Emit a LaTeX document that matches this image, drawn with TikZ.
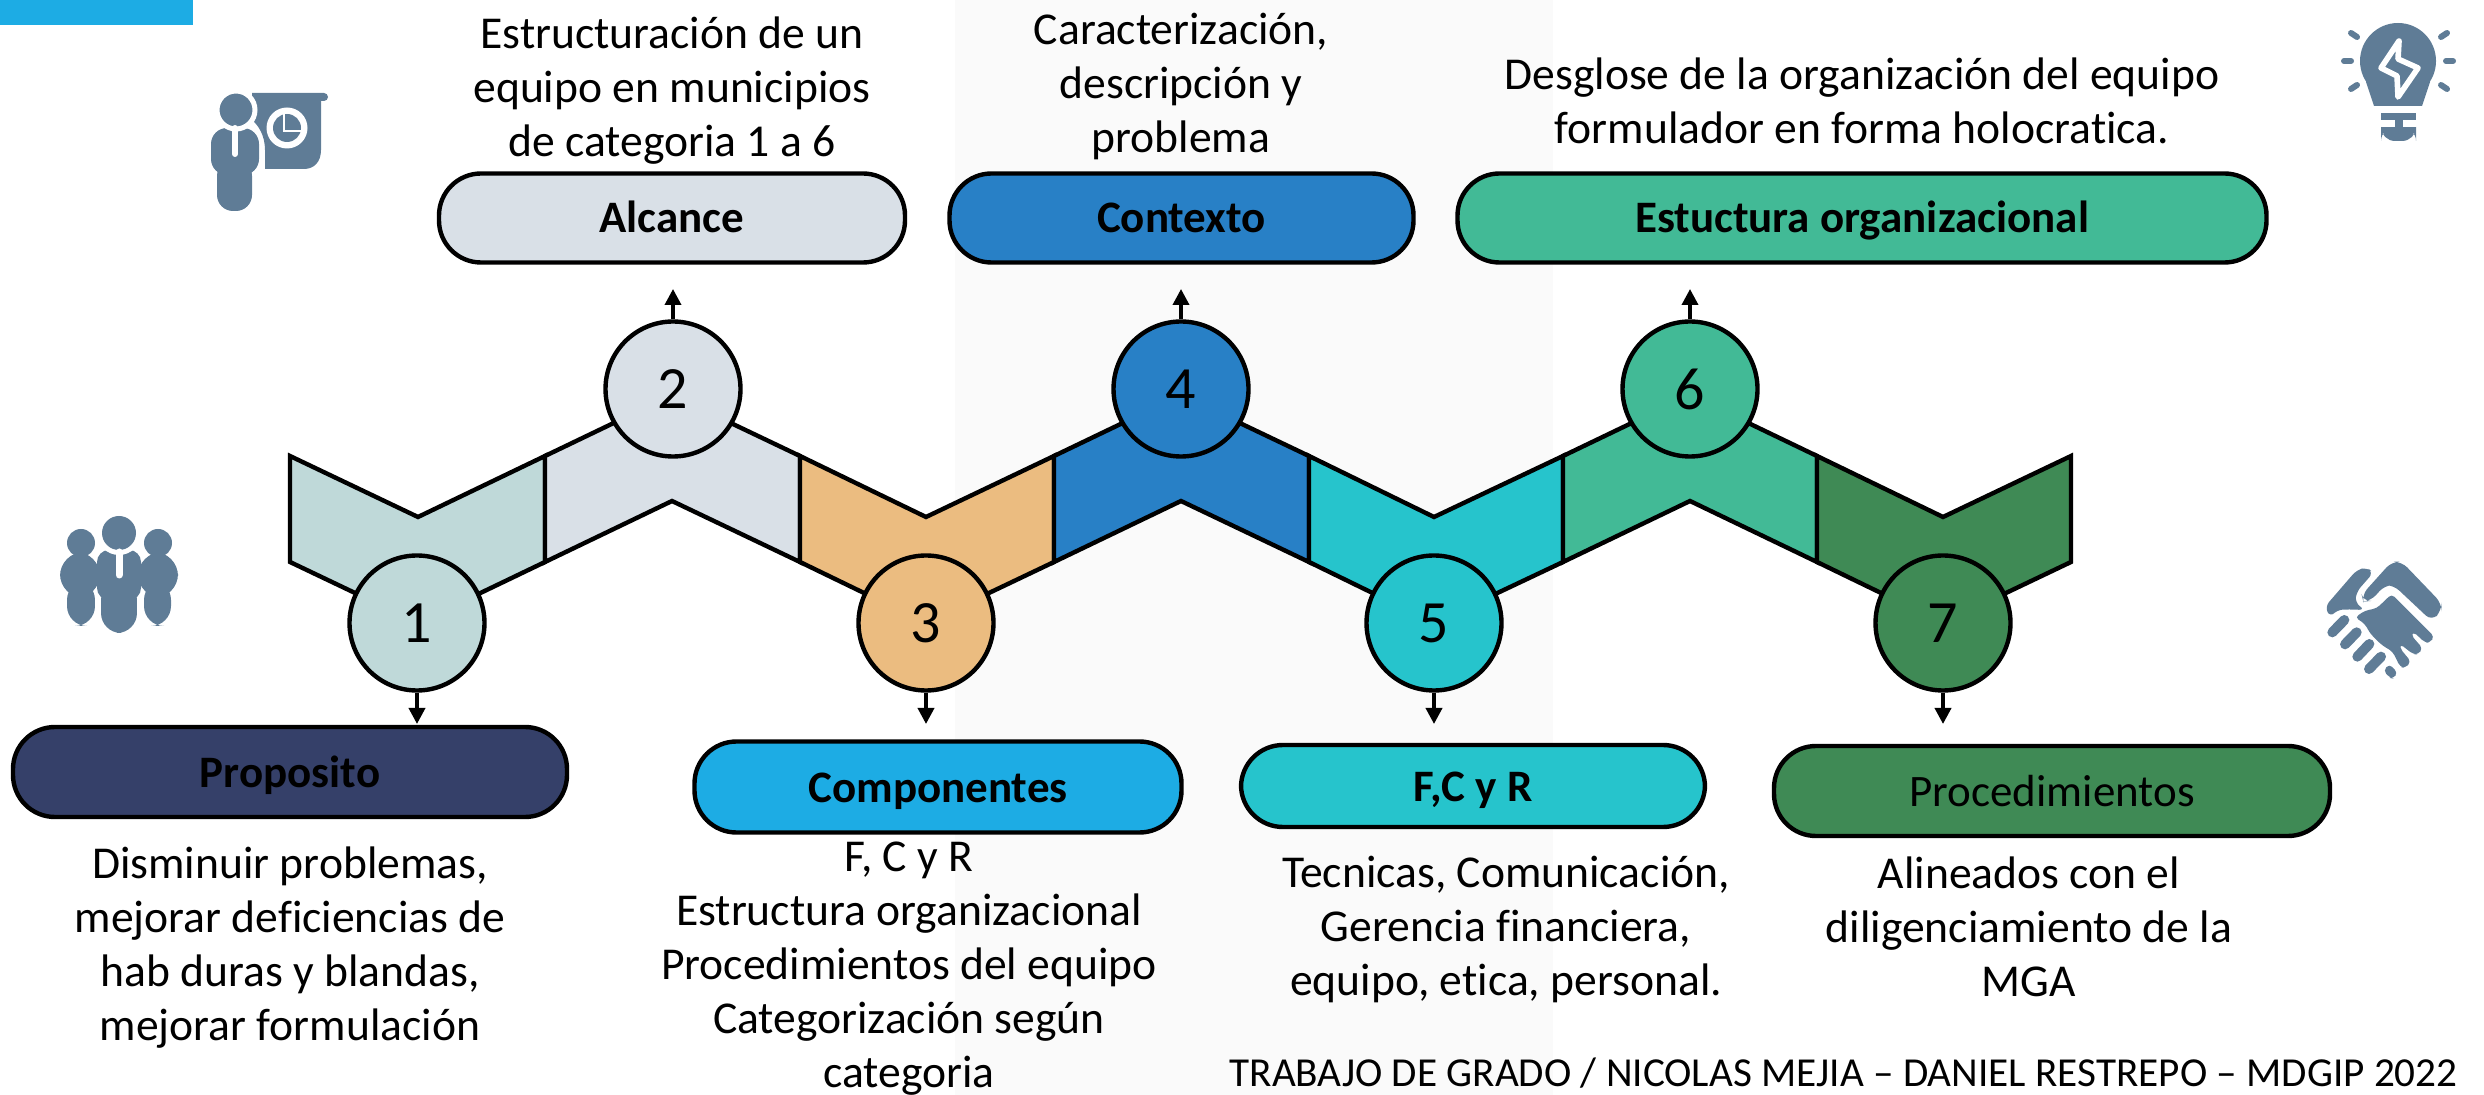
\documentclass[tikz,border=0pt]{standalone}
\usepackage{fontspec}
\setmainfont{Carlito}[Ligatures=NoCommon]
\usetikzlibrary{arrows.meta}
\definecolor{iconc}{HTML}{5F7C96}
\definecolor{cA}{HTML}{BFD9D9}
\definecolor{cB}{HTML}{D9E0E7}
\definecolor{cC}{HTML}{EBBC80}
\definecolor{cD}{HTML}{2880C6}
\definecolor{cE}{HTML}{26C4CC}
\definecolor{cF}{HTML}{42BA96}
\definecolor{cG}{HTML}{3F8A55}
\definecolor{cNavy}{HTML}{354069}
\definecolor{cSky}{HTML}{1DACE4}
\definecolor{cPanel}{HTML}{FAFAFA}
\tikzset{
  x=0.5pt,y=-0.5pt,
  sect/.style={draw=black,line width=2.2pt,line join=miter},
  numc/.style={circle,draw=black,line width=2.2pt,minimum size=67.5pt,inner sep=0pt,font=\fontsize{30}{32}\selectfont},
  pill/.style={rectangle,rounded corners=21pt,draw=black,line width=2.2pt,inner sep=0pt,text height=15pt,text depth=0pt,font=\fontsize{22.5}{25}\selectfont\bfseries},
  body/.style={align=center,inner sep=0pt,font=\fontsize{22.8}{27}\selectfont},
  arr/.style={line width=1.8pt,-{Triangle[length=8pt,width=8pt]}},
  ic/.style={fill=iconc,draw=none},
}
\begin{document}
\begin{tikzpicture}
\useasboundingbox (0,0) rectangle (2484,1095);
\fill[cPanel] (955,0) rectangle (1553,1095);
\fill[cSky] (0,0) rectangle (193,25);

% zigzag
\filldraw[sect,fill=cA] (290,456)--(418,517)--(545,456)--(545,562)--(418,623)--(290,562)--cycle;
\filldraw[sect,fill=cB] (545,456)--(672,395)--(800,456)--(800,562)--(672,501)--(545,562)--cycle;
\filldraw[sect,fill=cC] (800,456)--(926,517)--(1054,456)--(1054,562)--(926,623)--(800,562)--cycle;
\filldraw[sect,fill=cD] (1054,456)--(1181,395)--(1309,456)--(1309,562)--(1181,501)--(1054,562)--cycle;
\filldraw[sect,fill=cE] (1309,456)--(1434,517)--(1563,456)--(1563,562)--(1434,623)--(1309,562)--cycle;
\filldraw[sect,fill=cF] (1563,456)--(1690,395)--(1817,456)--(1817,562)--(1690,501)--(1563,562)--cycle;
\filldraw[sect,fill=cG] (1817,456)--(1943,517)--(2071,456)--(2071,562)--(1943,623)--(1817,562)--cycle;

% circles
\node[numc,fill=cA] (n1) at (417,623) {1};
\node[numc,fill=cB] (n2) at (673,389) {2};
\node[numc,fill=cC] (n3) at (926,623) {3};
\node[numc,fill=cD] (n4) at (1181,389) {4};
\node[numc,fill=cE] (n5) at (1434,623) {5};
\node[numc,fill=cF] (n6) at (1690,389) {6};
\node[numc,fill=cG] (n7) at (1943,623) {7};

% pills
\node[pill,fill=cB,minimum width=233pt,minimum height=44.5pt] (p2) at (672,218) {Alcance};
\node[pill,fill=cD,minimum width=232pt,minimum height=44.5pt] (p4) at (1181.5,218) {Contexto};
\node[pill,fill=cF,minimum width=404.5pt,minimum height=44.5pt] (p6) at (1862,218) {Estuctura organizacional};
\node[pill,fill=cNavy,minimum width=277pt,minimum height=45pt] (p1) at (290,772) {Proposito};
\node[pill,fill=cSky,minimum width=243.5pt,minimum height=45.5pt] (p3) at (938,787) {Componentes};
\node[pill,fill=cE,minimum width=232pt,minimum height=41pt] (p5) at (1473,786) {F,C y R};
\node[pill,fill=cG,minimum width=278pt,minimum height=45pt,font=\fontsize{22.5}{25}\selectfont] (p7) at (2052,791) {Procedimientos};

% arrows
\coordinate (t2) at (673,289);
\coordinate (t4) at (1181,289);
\coordinate (t6) at (1690,289);
\coordinate (t1) at (417,724);
\coordinate (t3) at (926,724);
\coordinate (t5) at (1434,724);
\coordinate (t7) at (1943,724);
\draw[arr] (n2.north)--(t2);
\draw[arr] (n4.north)--(t4);
\draw[arr] (n6.north)--(t6);
\draw[arr] (n1.south)--(t1);
\draw[arr] (n3.south)--(t3);
\draw[arr] (n5.south)--(t5);
\draw[arr] (n7.south)--(t7);

% texts
\node[body] (d2) at (672,91) {Estructuración de un\\equipo en municipios\\de categoria 1 a 6};
\node[body] (d4) at (1181,86) {Caracterización,\\descripción y\\problema};
\node[body] (d6) at (1862,101) {Desglose de la organización del equipo\\formulador en forma holocratica.};
\node[body] (d1) at (290,948) {Disminuir problemas,\\mejorar deficiencias de\\hab duras y blandas,\\mejorar formulación};
\node[body] (d3) at (909,969) {F, C y R\\Estructura organizacional\\Procedimientos del equipo\\Categorización según\\categoria};
\node[body] (d5) at (1506,929) {Tecnicas, Comunicación,\\Gerencia financiera,\\equipo, etica, personal.};
\node[body] (d7) at (2029,927) {Alineados con el\\diligenciamiento de la\\MGA};
\node[body,anchor=east,font=\fontsize{20.6}{25}\selectfont] (foot) at (2458,1073) {TRABAJO DE GRADO / NICOLAS MEJIA – DANIEL RESTREPO – MDGIP 2022};

% presenter icon
\fill[ic] (252,93) -- (324,93) arc[start angle=-90,end angle=90,radius=4] -- (321,101) -- (321,150) .. controls (321,162) and (314,169) .. (304,169) -- (265,169) -- (265,150) .. controls (265,135) and (258,125) .. (252,120) -- cycle;
\fill[ic,rounded corners=8pt] (211,128) rectangle (259,175);
\fill[ic,rounded corners=8pt] (217,160) rectangle (252,211);
\fill[ic,draw=white,line width=2.5pt] (236,110) circle[radius=19];
\draw[white,line width=3pt,line cap=round] (235,128)--(235,154);
\fill[white] (287,128) circle[radius=20.5];
\fill[ic] (287,128) circle[radius=14];
\draw[white,line width=1.4pt] (284,113)--(284,131)--(302,131);

% team icon
\fill[ic] (81,543) circle[radius=14];
\fill[ic] (158,543) circle[radius=14];
\fill[ic,rounded corners=12pt] (60,552) rectangle (100,598);
\fill[ic,rounded corners=12pt] (138,552) rectangle (178,598);
\fill[ic,rounded corners=10pt] (67,580) rectangle (95,626);
\fill[ic,rounded corners=10pt] (144,580) rectangle (171,626);
\fill[ic,rounded corners=6pt] (97,550) rectangle (141,600);
\fill[ic,rounded corners=10pt] (101,580) rectangle (137,633);
\fill[white] (119,533) circle[radius=22];
\fill[ic] (119,533) circle[radius=17];
\draw[white,line width=3.5pt,line cap=round] (119,552)--(119,575);
\fill[white] (95,598) rectangle (101,630);
\fill[white] (137,598) rectangle (144,630);

% bulb icon
\fill[ic] (2366,82) -- (2374,106) -- (2422,106) -- (2430,82) -- cycle;
\fill[ic] (2398,61) circle[radius=38];
\fill[ic] (2381,113) rectangle (2416,120);
\fill[ic] (2395,120) rectangle (2403,127);
\fill[ic,rounded corners=7pt] (2381,127) -- (2416,127) -- (2416,141) -- (2381,141) -- cycle;
\fill[ic] (2381,127) rectangle (2416,133);
\draw[iconc,line width=3pt,line cap=round] (2344,61)--(2351,61);
\draw[iconc,line width=3pt,line cap=round] (2446,61)--(2453,61);
\draw[iconc,line width=3pt,line cap=round] (2351,33)--(2357,37);
\draw[iconc,line width=3pt,line cap=round] (2447,33)--(2441,37);
\draw[iconc,line width=3pt,line cap=round] (2351,89)--(2357,85);
\draw[iconc,line width=3pt,line cap=round] (2447,89)--(2441,85);
\draw[white,line width=2.8pt,line join=round,fill=iconc] (2399,41)--(2381,68)--(2397,76)--(2398,97)--(2418,68)--(2398,59)--cycle;

% handshake icon
\begin{scope}[shift={(2250,520)},scale=0.33333]
\fill[ic,rounded corners=4pt] (335,225)--(425,125)--(455,125)--(575,250)--(575,272)--(545,303)--(430,195)--(405,195)--(362,243)--(340,245)--cycle;
\fill[ic,rounded corners=3pt] (225,260)--(320,150)--(350,142)--(370,158)--(320,215)--(315,248)--(345,270)--(290,268)--(260,270)--(240,292)--cycle;
\fill[ic,rounded corners=2pt] (345,272)--(380,265)--(425,222)--(553,350)--(540,368)--(525,368)--(490,335)--(483,345)--(518,385)--(505,403)--(490,403)--(450,372)--(450,385)--(483,425)--(465,445)--(450,440)--(428,395)--(395,375)--(360,340)--(345,312)--(315,292)--cycle;
\draw[iconc,line width=5pt,line cap=round] (247,337)--(283,300);
\draw[iconc,line width=5pt,line cap=round] (285,373)--(320,337);
\draw[iconc,line width=5pt,line cap=round] (322,410)--(358,372);
\draw[iconc,line width=5pt,line cap=round] (357,447)--(393,410);
\fill[ic,rounded corners=2pt] (400,452)--(418,432)--(443,458)--(430,476)--(420,474)--cycle;
\end{scope}
\end{tikzpicture}
\end{document}
